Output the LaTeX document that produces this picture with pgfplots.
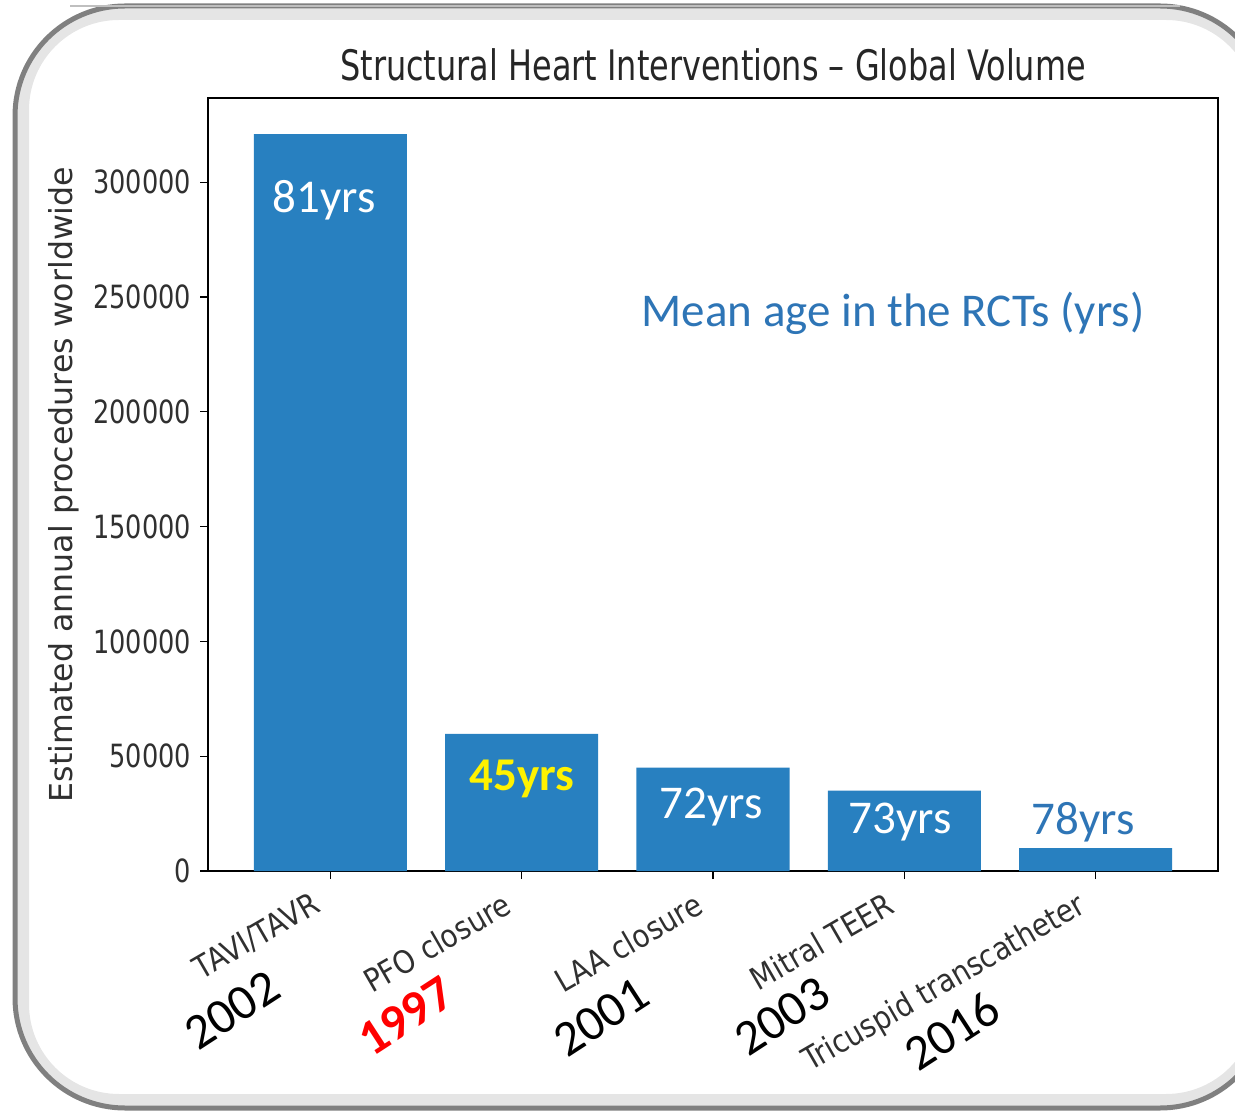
\documentclass[border=0pt]{standalone}
\usepackage{pgfplots}
\pgfplotsset{compat=1.18}
\usepackage{fontspec}
\setmainfont{DejaVu Sans}
\newfontfamily\tickfont[FakeStretch=0.8]{DejaVu Sans}
\newfontfamily\titlefont[FakeStretch=0.76]{DejaVu Sans}
\newfontfamily\xlabfont[FakeStretch=0.88]{DejaVu Sans}
\newfontfamily\calfont{Carlito}
\definecolor{barblue}{HTML}{2880C0}
\definecolor{txtblue}{HTML}{2E75B6}
\definecolor{tickgray}{HTML}{303030}
\begin{document}
\begin{tikzpicture}[x=0.5pt,y=0.5pt]
\useasboundingbox (0,0) rectangle (1235,1114);
\clip (0,0) rectangle (1235,1114);
% frame
\draw[line width=6, black!10, rounded corners=48] (23,14) rectangle (1262,1100);
\draw[line width=2.5, black!50, rounded corners=55] (15,6) rectangle (1270,1108);
\draw[line width=1, black!25] (70,1108) -- (1180,1108);
\begin{axis}[
  at={(104pt,121.5pt)}, anchor=south west,
  scale only axis, width=505pt, height=386.5pt,
  xmin=-0.64, xmax=4.64, ymin=0, ymax=336700,
  ybar, bar width=0.8, bar shift=0pt,
  xtick={0,1,2,3,4},
  xticklabels={TAVI/TAVR, PFO closure, LAA closure, Mitral TEER, Tricuspid transcatheter},
  ytick={0,50000,100000,150000,200000,250000,300000},
  yticklabels={0,50000,100000,150000,200000,250000,300000},
  scaled y ticks=false,
  tick align=outside, major tick length=4pt,
  tick style={black, line width=0.6pt},
  axis line style={black, line width=0.6pt},
  xtick pos=bottom, ytick pos=left,
  yticklabel style={font=\tickfont\fontsize{16}{18}\selectfont, text=tickgray, xshift=-1pt},
  xticklabel style={font=\xlabfont\fontsize{15.8}{18}\selectfont, text=tickgray, xshift=-8.7pt, yshift=-1.1pt, rotate=30, anchor=north east},
  ylabel={Estimated annual procedures worldwide},
  ylabel style={font=\fontsize{15.8}{18}\selectfont, text=tickgray},
]
\addplot[fill=barblue, draw=none] coordinates {(0,321000) (1,59700) (2,45000) (3,35000) (4,10000)};
\end{axis}
\node[font=\titlefont\fontsize{21}{25}\selectfont, text=black!85] at (713,1049) {Structural Heart Interventions – Global Volume};
\node[font=\calfont\fontsize{23.5}{28}\selectfont, text=txtblue] at (893,801) {Mean age in the RCTs (yrs)};
\node[font=\calfont\fontsize{23.5}{28}\selectfont, text=white] at (324,914) {81yrs};
\node[font=\calfont\bfseries\fontsize{23.5}{28}\selectfont, text=yellow] at (522,335) {45yrs};
\node[font=\calfont\fontsize{23.5}{28}\selectfont, text=white] at (711,307) {72yrs};
\node[font=\calfont\fontsize{23.5}{28}\selectfont, text=white] at (900,292) {73yrs};
\node[font=\calfont\fontsize{23.5}{28}\selectfont, text=txtblue] at (1083,292) {78yrs};
\node[font=\calfont\fontsize{25}{30}\selectfont, rotate=33] at (232,104) {2002};
\node[font=\calfont\bfseries\fontsize{25}{30}\selectfont, text=red, rotate=33] at (406,98) {1997};
\node[font=\calfont\fontsize{25}{30}\selectfont, rotate=33] at (601,97) {2001};
\node[font=\calfont\fontsize{25}{30}\selectfont, rotate=33] at (782,98) {2003};
\node[font=\calfont\fontsize{25}{30}\selectfont, rotate=33] at (952,83) {2016};
\end{tikzpicture}
\end{document}
